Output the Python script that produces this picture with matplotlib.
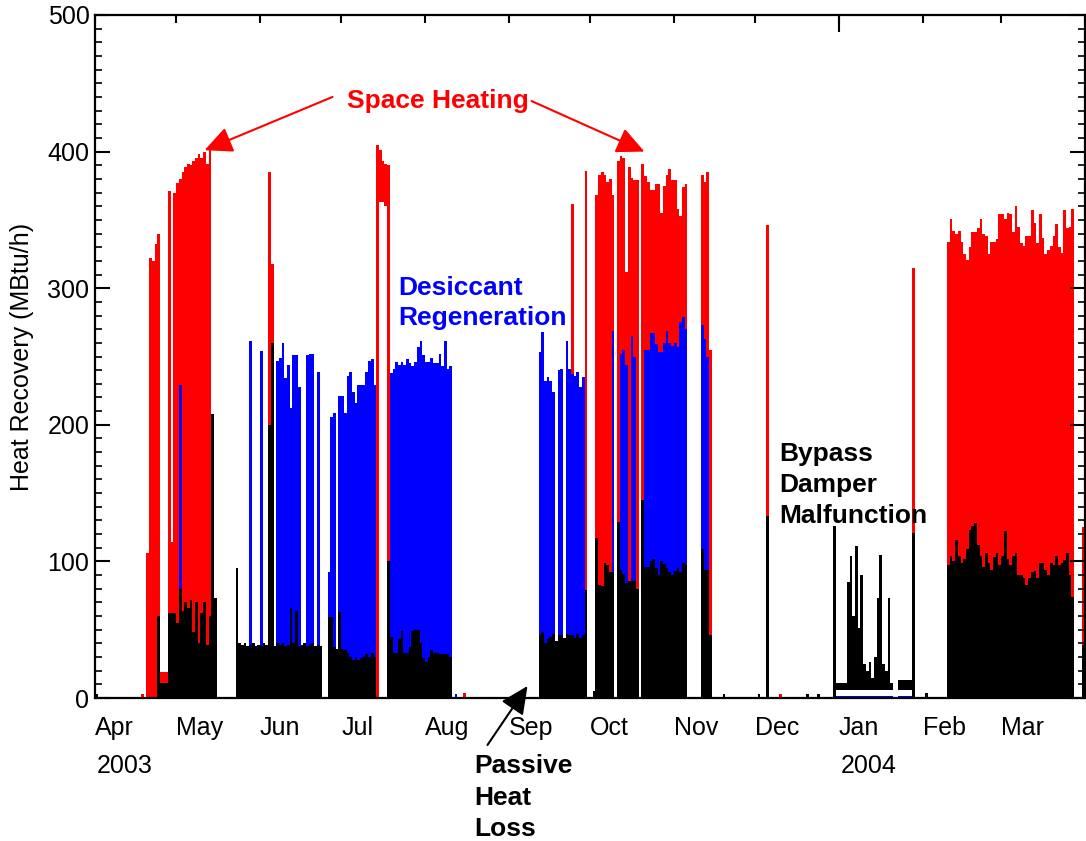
import numpy as np
import matplotlib
matplotlib.use("Agg")
import matplotlib.pyplot as plt
from matplotlib.ticker import MultipleLocator
from matplotlib.transforms import blended_transform_factory

plt.rcParams['font.family'] = ['Liberation Sans', 'DejaVu Sans']

# months of the record, Apr 2003 .. Mar 2004 (one value per day, MBtu/h daily peak)
months = ['Apr', 'May', 'Jun', 'Jul', 'Aug', 'Sep', 'Oct', 'Nov', 'Dec', 'Jan', 'Feb', 'Mar']
month_len = [30, 31, 30, 31, 31, 30, 31, 30, 31, 31, 29, 31]

apr_red = [0, 0, 0, 0, 0, 0, 0, 0, 0, 0,
           0, 0, 0, 0, 0, 0, 0, 3, 0, 106,
           322, 320, 332, 340, 19, 19, 19, 371, 114, 370]
apr_blue = [0, 0, 0, 0, 0, 0, 0, 0, 0, 0,
            0, 0, 0, 0, 0, 0, 0, 0, 0, 0,
            0, 0, 0, 0, 0, 0, 0, 0, 0, 0]
apr_black = [3, 0, 0, 0, 0, 0, 0, 0, 0, 0,
             0, 0, 0, 0, 0, 0, 0, 0, 0, 0,
             0, 0, 0, 60, 11, 11, 11, 62, 62, 62]

may_red = [377, 380, 385, 389, 391, 390, 393, 395, 398, 395,
           400, 391, 403, 0, 0, 0, 0, 0, 0, 0,
           0, 0, 0, 0, 0, 0, 0, 0, 0, 0, 0]
may_blue = [0, 229, 0, 0, 0, 0, 0, 0, 0, 0,
            0, 0, 0, 0, 0, 0, 0, 0, 0, 0,
            0, 0, 0, 0, 0, 0, 0, 261, 0, 0, 0]
may_black = [55, 80, 64, 70, 66, 72, 48, 70, 40, 62,
             70, 39, 60, 208, 73, 0, 0, 0, 0, 0,
             0, 0, 95, 40, 39, 40, 38, 39, 40, 38, 39]

jun_red = [0, 0, 0, 385, 318, 0, 0, 0, 0, 0,
           0, 0, 0, 0, 0, 0, 0, 0, 0, 0,
           0, 0, 0, 0, 0, 0, 0, 0, 0, 0]
jun_blue = [254, 0, 0, 0, 0, 0, 247, 249, 260, 234,
            244, 212, 251, 251, 228, 0, 0, 251, 252, 252,
            0, 239, 0, 0, 0, 92, 206, 209, 0, 221]
jun_black = [38, 40, 39, 200, 260, 38, 40, 39, 40, 38,
             39, 66, 40, 64, 38, 39, 40, 38, 39, 40,
             38, 39, 38, 0, 0, 59, 59, 37, 36, 63]

jul_red = [0, 0, 0, 0, 0, 0, 0, 0, 0, 0,
           0, 0, 0, 405, 401, 393, 391, 390, 0, 0,
           0, 0, 0, 0, 0, 0, 0, 0, 0, 0, 0]
jul_red_low = [0, 0, 0, 0, 0, 0, 0, 0, 0, 0,
               0, 0, 0, 0, 363, 363, 360, 0, 0, 0,
               0, 0, 0, 0, 0, 0, 0, 0, 0, 0, 0]
jul_blue = [221, 209, 236, 239, 224, 216, 229, 229, 229, 239,
            247, 248, 229, 0, 0, 0, 0, 0, 238, 241,
            246, 244, 246, 244, 248, 245, 243, 246, 257, 261, 251]
jul_black = [36, 35, 33, 30, 28, 30, 28, 29, 30, 32,
             30, 33, 30, 0, 0, 0, 0, 100, 45, 33,
             33, 43, 49, 33, 33, 37, 49, 50, 50, 40, 29]

aug_red = [0, 0, 0, 0, 0, 0, 0, 0, 0, 0,
           0, 0, 0, 0, 4, 0, 0, 0, 0, 0,
           0, 0, 0, 0, 0, 0, 0, 0, 0, 0, 0]
aug_blue = [246, 246, 249, 245, 245, 252, 243, 261, 241, 243,
            0, 3, 0, 0, 0, 0, 0, 0, 0, 0,
            0, 0, 0, 0, 0, 0, 0, 0, 0, 0, 0]
aug_black = [26, 30, 35, 33, 33, 32, 32, 32, 32, 30,
             0, 0, 0, 0, 0, 0, 0, 0, 0, 0,
             0, 0, 0, 0, 0, 0, 0, 0, 0, 0, 0]

sep_red = [0, 0, 0, 0, 0, 0, 0, 0, 0, 0,
           0, 0, 0, 0, 0, 0, 0, 0, 0, 0,
           0, 0, 0, 362, 0, 0, 0, 0, 386, 0]
sep_blue = [0, 0, 0, 0, 0, 0, 0, 0, 0, 0,
            0, 253, 268, 232, 235, 232, 224, 0, 240, 241,
            0, 261, 241, 237, 236, 239, 228, 235, 0, 0]
sep_black = [0, 0, 0, 0, 0, 0, 0, 0, 0, 0,
             0, 46, 48, 40, 43, 45, 47, 42, 46, 46,
             44, 47, 46, 46, 44, 47, 44, 46, 79, 0]

oct_red = [0, 0, 368, 383, 385, 383, 378, 380, 368, 0,
           393, 397, 395, 312, 389, 381, 379, 379, 0, 391,
           382, 378, 372, 372, 376, 376, 355, 375, 383, 387, 379]
oct_blue = [0, 0, 0, 0, 0, 0, 0, 0, 269, 0,
            0, 252, 255, 244, 0, 265, 250, 0, 0, 0,
            255, 255, 267, 267, 259, 253, 253, 260, 269, 260, 258]
oct_black = [0, 5, 117, 83, 82, 99, 97, 92, 92, 0,
             129, 94, 91, 84, 86, 86, 86, 80, 0, 145,
             96, 96, 100, 102, 95, 90, 100, 98, 95, 92, 90]

nov_red = [379, 358, 353, 374, 376, 0, 0, 0, 0, 0,
           383, 378, 385, 255, 0, 0, 0, 0, 0, 0,
           0, 0, 0, 0, 0, 0, 0, 0, 0, 0]
nov_blue = [260, 257, 275, 279, 270, 0, 0, 0, 0, 0,
            273, 263, 250, 0, 0, 0, 0, 0, 0, 0,
            0, 0, 0, 0, 0, 0, 0, 0, 0, 0]
nov_black = [93, 95, 92, 99, 97, 0, 0, 0, 0, 0,
             109, 94, 94, 46, 0, 0, 0, 0, 3, 0,
             0, 0, 0, 0, 0, 0, 0, 0, 0, 0]

dec_red = [0, 0, 0, 0, 346, 0, 0, 0, 0, 3,
           0, 0, 0, 0, 0, 0, 0, 0, 0, 0,
           0, 0, 0, 0, 0, 0, 0, 0, 0, 0, 0]
dec_blue = [0, 0, 0, 0, 0, 0, 0, 0, 0, 0,
            0, 0, 0, 0, 0, 0, 0, 0, 0, 0,
            0, 0, 0, 0, 0, 0, 0, 0, 0, 1.5, 1.5]
dec_black = [0, 3, 0, 0, 133, 0, 0, 0, 0, 0,
             0, 0, 0, 0, 0, 0, 0, 0, 0, 3,
             0, 0, 0, 3, 0, 0, 0, 0, 0, 126, 11]
dec_black_low = [0, 0, 0, 0, 0, 0, 0, 0, 0, 0,
                 0, 0, 0, 0, 0, 0, 0, 0, 0, 0,
                 0, 0, 0, 0, 0, 0, 0, 0, 0, 0, 6]

jan_red = [0, 0, 0, 0, 0, 0, 0, 0, 0, 0,
           0, 0, 0, 0, 0, 0, 0, 0, 0, 0,
           0, 0, 0, 0, 0, 0, 0, 315, 0, 0, 0]
jan_blue = [1.5, 1.5, 1.5, 1.5, 1.5, 1.5, 1.5, 1.5, 1.5, 1.5,
            1.5, 1.5, 1.5, 1.5, 1.5, 1.5, 1.5, 1.5, 1.5, 1.5,
            0, 0, 1.5, 1.5, 1.5, 1.5, 1.5, 0, 0, 0, 0]
jan_black = [11, 11, 11, 85, 104, 60, 111, 51, 90, 25,
             20, 26, 15, 30, 73, 105, 25, 20, 73, 11,
             0, 0, 13, 13, 13, 13, 13, 121, 0, 0, 0]
jan_black_low = [6, 6, 6, 6, 6, 6, 6, 6, 6, 6,
                 6, 6, 6, 6, 6, 6, 6, 6, 6, 6,
                 0, 0, 6, 6, 6, 6, 6, 0, 0, 0, 0]

feb_red = [0, 0, 0, 0, 0, 0, 0, 0, 0, 334,
           351, 342, 340, 342, 334, 325, 321, 330, 341, 341,
           344, 351, 340, 338, 325, 334, 334, 336, 354]
feb_blue = [0, 0, 0, 0, 0, 0, 0, 0, 0, 0,
            0, 0, 0, 0, 0, 0, 0, 0, 0, 0,
            0, 0, 0, 0, 0, 0, 0, 0, 0]
feb_black = [0, 4, 0, 0, 0, 0, 0, 0, 0, 97,
             104, 100, 116, 104, 99, 102, 109, 123, 126, 128,
             112, 104, 96, 106, 99, 94, 103, 106, 97]

mar_red = [354, 351, 355, 354, 341, 360, 345, 333, 331, 338,
           338, 357, 348, 333, 354, 337, 325, 328, 331, 338,
           347, 330, 326, 357, 344, 345, 358, 0, 0, 0, 125]
mar_blue = [0, 0, 0, 0, 0, 0, 0, 0, 0, 0,
            0, 0, 0, 0, 0, 0, 0, 0, 0, 0,
            0, 0, 0, 0, 0, 0, 0, 0, 0, 0, 0]
mar_black = [104, 122, 102, 97, 104, 106, 90, 90, 88, 83,
             88, 92, 93, 88, 99, 99, 94, 90, 99, 97,
             104, 97, 99, 101, 106, 90, 74, 0, 0, 0, 39]

red = np.concatenate([apr_red, may_red, jun_red, jul_red, aug_red, sep_red,
                      oct_red, nov_red, dec_red, jan_red, feb_red, mar_red]).astype(float)
blue = np.concatenate([apr_blue, may_blue, jun_blue, jul_blue, aug_blue, sep_blue,
                       oct_blue, nov_blue, dec_blue, jan_blue, feb_blue, mar_blue]).astype(float)
black = np.concatenate([apr_black, may_black, jun_black, jul_black, aug_black, sep_black,
                        oct_black, nov_black, dec_black, jan_black, feb_black, mar_black]).astype(float)

ndays = sum(month_len)
red_low = np.zeros(ndays)
black_low = np.zeros(ndays)
starts = np.concatenate([[0], np.cumsum(month_len)[:-1]])
red_low[starts[3]:starts[3] + 31] = jul_red_low
black_low[starts[8]:starts[8] + 31] = dec_black_low
black_low[starts[9]:starts[9] + 31] = jan_black_low
assert len(red) == len(blue) == len(black) == ndays

days = np.arange(ndays)

fig = plt.figure(figsize=(10.86, 8.41), dpi=100)
ax = fig.add_axes([95 / 1086, 143 / 841, 990 / 1086, 683 / 841])

ax.bar(days, red - red_low, bottom=red_low, width=1, align='edge', color='#ff0000',
       linewidth=0, antialiased=False, zorder=1)
ax.bar(days, blue, width=1, align='edge', color='#0000ff', linewidth=0, antialiased=False, zorder=1.1)
ax.bar(days, black - black_low, bottom=black_low, width=1, align='edge', color='black',
       linewidth=0, antialiased=False, zorder=1.2)

ax.set_xlim(0, ndays)
ax.set_ylim(0, 500)

for s in ax.spines.values():
    s.set_linewidth(1.6)

ax.set_xticks(starts)
ax.set_xticklabels(months, ha='left')
ax.set_xticks([starts[9]], minor=True)
ax.xaxis.remove_overlapping_locs = False
ax.tick_params(axis='x', which='major', bottom=False, top=True, direction='in',
               length=6, width=1.5, labelsize=18, pad=13)
ax.tick_params(axis='x', which='minor', bottom=False, top=True, direction='in',
               length=12, width=1.5)

ax.yaxis.set_major_locator(MultipleLocator(100))
ax.yaxis.set_minor_locator(MultipleLocator(10))
ax.tick_params(axis='y', which='major', left=True, right=True, direction='in',
               length=11, width=1.5, labelsize=18, pad=4)
ax.tick_params(axis='y', which='minor', left=True, right=True, direction='in',
               length=5, width=1.2)

ax.text(-0.0737, 0.5, 'Heat Recovery (MBtu/h)', transform=ax.transAxes, rotation=90,
        ha='center', va='center', fontsize=18)

trans = blended_transform_factory(ax.transData, ax.transAxes)
ax.text(starts[0] + 0.6, -0.1, '2003', transform=trans, ha='left', va='center', fontsize=18)
ax.text(starts[9] + 0.6, -0.1, '2004', transform=trans, ha='left', va='center', fontsize=18)

# annotations
ax.text(126.6, 437, 'Space Heating', color='#ff0000', fontsize=19, fontweight='bold',
        ha='center', va='center')
arrow_red = dict(arrowstyle='-|>,head_length=0.85,head_width=0.4', color='#ff0000',
                 lw=1.5, mutation_scale=20, shrinkA=0, shrinkB=0)
ax.annotate('', xy=(40.5, 401), xytext=(87.8, 440), arrowprops=arrow_red)
ax.annotate('', xy=(203.1, 400), xytext=(161.4, 437), arrowprops=arrow_red)

ax.text(112, 289, 'Desiccant\nRegeneration', color='#0000ff', fontsize=19, fontweight='bold',
        ha='left', va='center', linespacing=1.3)
ax.text(253, 156, 'Bypass\nDamper\nMalfunction', color='black', fontsize=19, fontweight='bold',
        ha='left', va='center', linespacing=1.38)
ax.text(140.3, -73, 'Passive\nHeat\nLoss', color='black', fontsize=19, fontweight='bold',
        ha='left', va='center', linespacing=1.38, clip_on=False)
ax.annotate('', xy=(159.9, 8.8), xytext=(145.1, -34.4), annotation_clip=False,
            arrowprops=dict(arrowstyle='-|>,head_length=0.85,head_width=0.4', color='black',
                            lw=1.5, mutation_scale=20, shrinkA=0, shrinkB=0))

fig.savefig('out.png', dpi=100)
